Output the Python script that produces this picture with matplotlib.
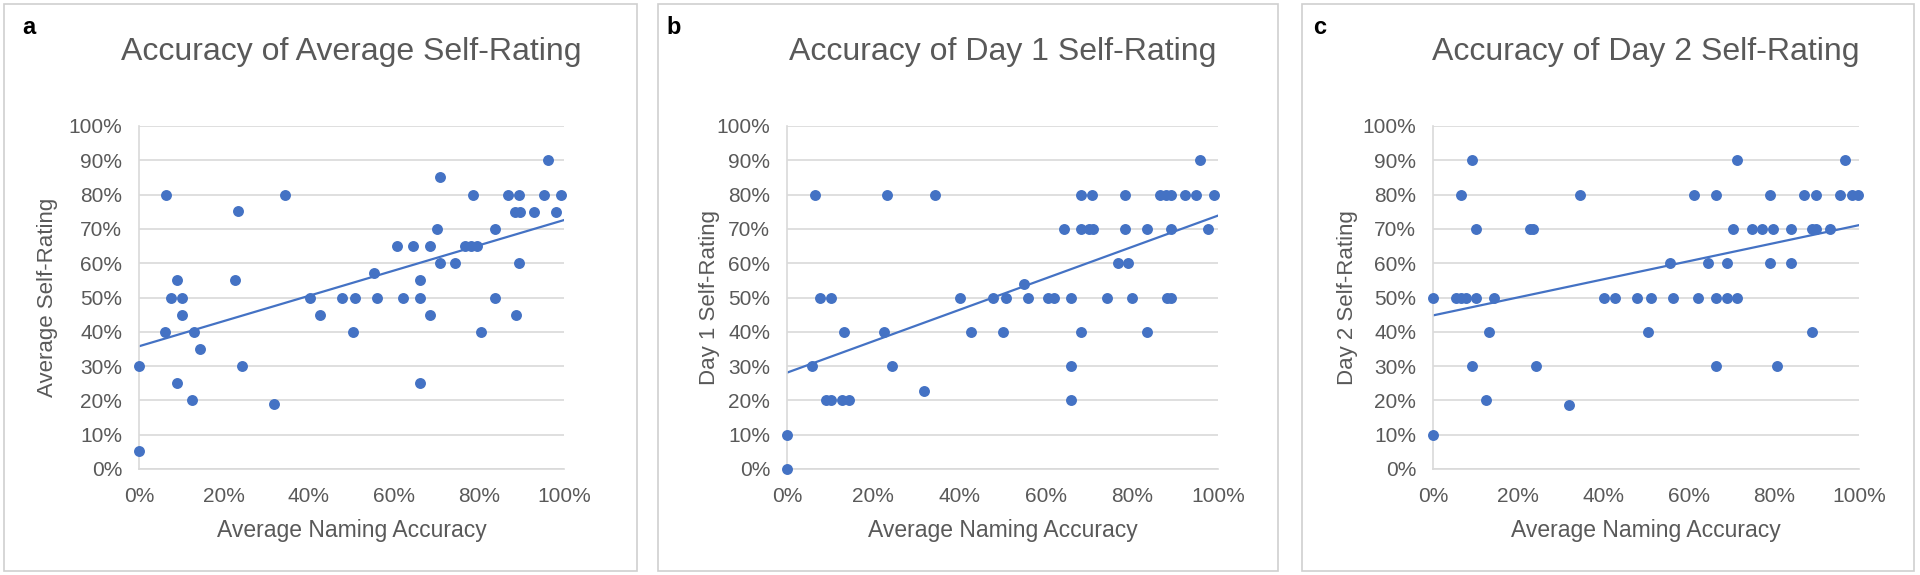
import numpy as np
import matplotlib.pyplot as plt
from matplotlib.patches import Rectangle
from matplotlib.ticker import PercentFormatter

plt.rcParams['font.family'] = ['Liberation Sans', 'DejaVu Sans']

# panel a - average self-rating
avg_x = [0, 0, 6.4, 6, 7.5, 9, 10, 10, 9, 13, 12.4, 14.3, 22.6, 23.2, 24.2, 31.8, 34.3,
         40.2, 42.7, 47.8, 50.3, 50.9, 55.4, 56, 60.8, 62, 64.4, 66, 66, 66, 68.5, 68.5,
         70.2, 70.9, 70.9, 74.3, 76.8, 78, 79.5, 78.6, 80.4, 83.8, 83.8, 86.8, 89.4, 88.5,
         89.6, 88.6, 89.4, 92.9, 95.2, 96.2, 98, 99.3]
avg_y = [5.2, 30, 80, 40, 50, 55, 50, 45, 25, 40, 20, 35, 55, 75.3, 30, 19, 80,
         50, 45, 50, 40, 50, 57, 50, 65, 50, 65, 55, 50, 25, 65, 45,
         70, 85, 60, 60, 65, 65, 65, 80, 40, 70, 50, 80, 80, 75,
         75, 45, 60, 75, 80, 90, 75, 80]

# panel b - day 1 self-rating
day1_x = [0, 0, 6.6, 5.9, 7.6, 10.2, 9.1, 10.1, 12.7, 14.4, 13.3, 22.5, 23.3, 24.3, 31.9,
          34.4, 40.1, 42.6, 47.8, 50.1, 50.9, 55.1, 56, 60.5, 61.9, 64.3, 65.8, 65.8, 65.8,
          68.3, 70.8, 68.3, 70.1, 71, 68.3, 74.3, 76.7, 79.2, 78.4, 78.4, 80, 83.5, 83.5,
          86.5, 87.9, 89.1, 89.1, 88.1, 89.2, 92.4, 94.9, 95.8, 97.7, 99]
day1_y = [0, 10, 80, 30, 50, 50, 20, 20, 20, 20, 40, 40, 80, 30, 22.7,
          80, 50, 40, 50, 40, 50, 54, 50, 50, 50, 70, 50, 30, 20,
          80, 80, 70, 70, 70, 40, 50, 60, 60, 80, 70, 50, 70, 40,
          80, 80, 80, 70, 50, 50, 80, 80, 90, 70, 80]

# panel c - day 2 self-rating
day2_x = [0, 0, 5.5, 6.5, 7.8, 10.2, 14.3, 6.6, 9.1, 10.2, 9.1, 13.2, 12.5, 22.7, 23.4,
          24.2, 32, 34.5, 40.1, 42.8, 48, 50.4, 51.1, 55.6, 56.3, 61.2, 62.2, 64.6, 66.5,
          66.5, 66.5, 68.9, 68.9, 70.5, 71.4, 71.4, 74.8, 77.2, 79.7, 79, 79, 80.7, 84, 84,
          87.2, 89.8, 88.9, 89.8, 88.9, 93.2, 95.6, 96.6, 98.3, 99.7]
day2_y = [50, 10, 50, 50, 50, 50, 50, 80, 90, 70, 30, 40, 20, 70, 70,
          30, 18.8, 80, 50, 50, 50, 40, 50, 60, 50, 80, 50, 60, 80,
          50, 30, 60, 50, 70, 90, 50, 70, 70, 70, 80, 60, 30, 70, 60,
          80, 80, 70, 70, 40, 70, 80, 90, 80, 80]

titles = ['Accuracy of Average Self-Rating', 'Accuracy of Day 1 Self-Rating',
          'Accuracy of Day 2 Self-Rating']
ylabels = ['Average Self-Rating', 'Day 1 Self-Rating', 'Day 2 Self-Rating']
letters = ['a', 'b', 'c']

blue = '#4472C4'
grey_text = '#595959'
grid_col = '#d9d9d9'

W, H = 1920.0, 575.0

# layout in pixels: frame left/right, axes left/right, ylabel x, letter x
frames = [(4, 637), (658, 1278), (1302, 1914)]
axes_lr = [(139, 564), (787, 1218), (1433, 1859)]
ylab_x = [48, 709, 1347]
letter_x = [29, 674, 1320]
ax_top, ax_bot = 126, 469


def draw_panel(fig, i, xs, ys):

	fl, fr = frames[i]
	fig.patches.append(Rectangle((fl / W, 4 / H), (fr - fl) / W, 567 / H,
								 transform=fig.transFigure, fill=False,
								 edgecolor='#cfcfcf', linewidth=1.2))

	al, ar = axes_lr[i]
	ax = fig.add_axes([al / W, 1 - ax_bot / H, (ar - al) / W, (ax_bot - ax_top) / H])

	xs = np.array(xs) / 100.0
	ys = np.array(ys) / 100.0
	ax.scatter(xs, ys, s=62, color=blue, zorder=3, clip_on=False, linewidths=0)

	# linear trendline like excel
	m, b = np.polyfit(xs, ys, 1)
	tx = np.array([0, 1.0])
	ax.plot(tx, m * tx + b, color=blue, linewidth=1.6, zorder=2)

	ax.set_xlim(0, 1)
	ax.set_ylim(0, 1)
	ax.set_xticks(np.arange(0, 1.01, 0.2))
	ax.set_yticks(np.arange(0, 1.01, 0.1))
	ax.xaxis.set_major_formatter(PercentFormatter(1.0, decimals=0))
	ax.yaxis.set_major_formatter(PercentFormatter(1.0, decimals=0))
	ax.tick_params(length=0, labelsize=15, colors=grey_text)
	ax.tick_params(axis='y', pad=12)
	ax.tick_params(axis='x', pad=13)
	ax.grid(axis='y', color=grid_col, linewidth=1.2)
	ax.set_axisbelow(True)
	for s in ['top', 'right']:
		ax.spines[s].set_visible(False)
	for s in ['left', 'bottom']:
		ax.spines[s].set_color(grid_col)
		ax.spines[s].set_linewidth(1.2)

	cx = (al + ar) / 2.0 / W
	fig.text(cx, 1 - 52 / H, titles[i], ha='center', va='center', fontsize=23, color=grey_text)
	fig.text(cx, 1 - 531 / H, 'Average Naming Accuracy', ha='center', va='center',
			 fontsize=16.5, color=grey_text)
	fig.text(ylab_x[i] / W, 1 - (ax_top + ax_bot) / 2.0 / H, ylabels[i], ha='center',
			 va='center', rotation=90, fontsize=16, color=grey_text)
	fig.text(letter_x[i] / W, 1 - 28 / H, letters[i], ha='center', va='center',
			 fontsize=17, fontweight='bold', color='black')


def plot_all():

	fig = plt.figure(figsize=(19.2, 5.75), dpi=100)
	draw_panel(fig, 0, avg_x, avg_y)
	draw_panel(fig, 1, day1_x, day1_y)
	draw_panel(fig, 2, day2_x, day2_y)
	fig.savefig('out.png', dpi=100, facecolor='white')


plot_all()
